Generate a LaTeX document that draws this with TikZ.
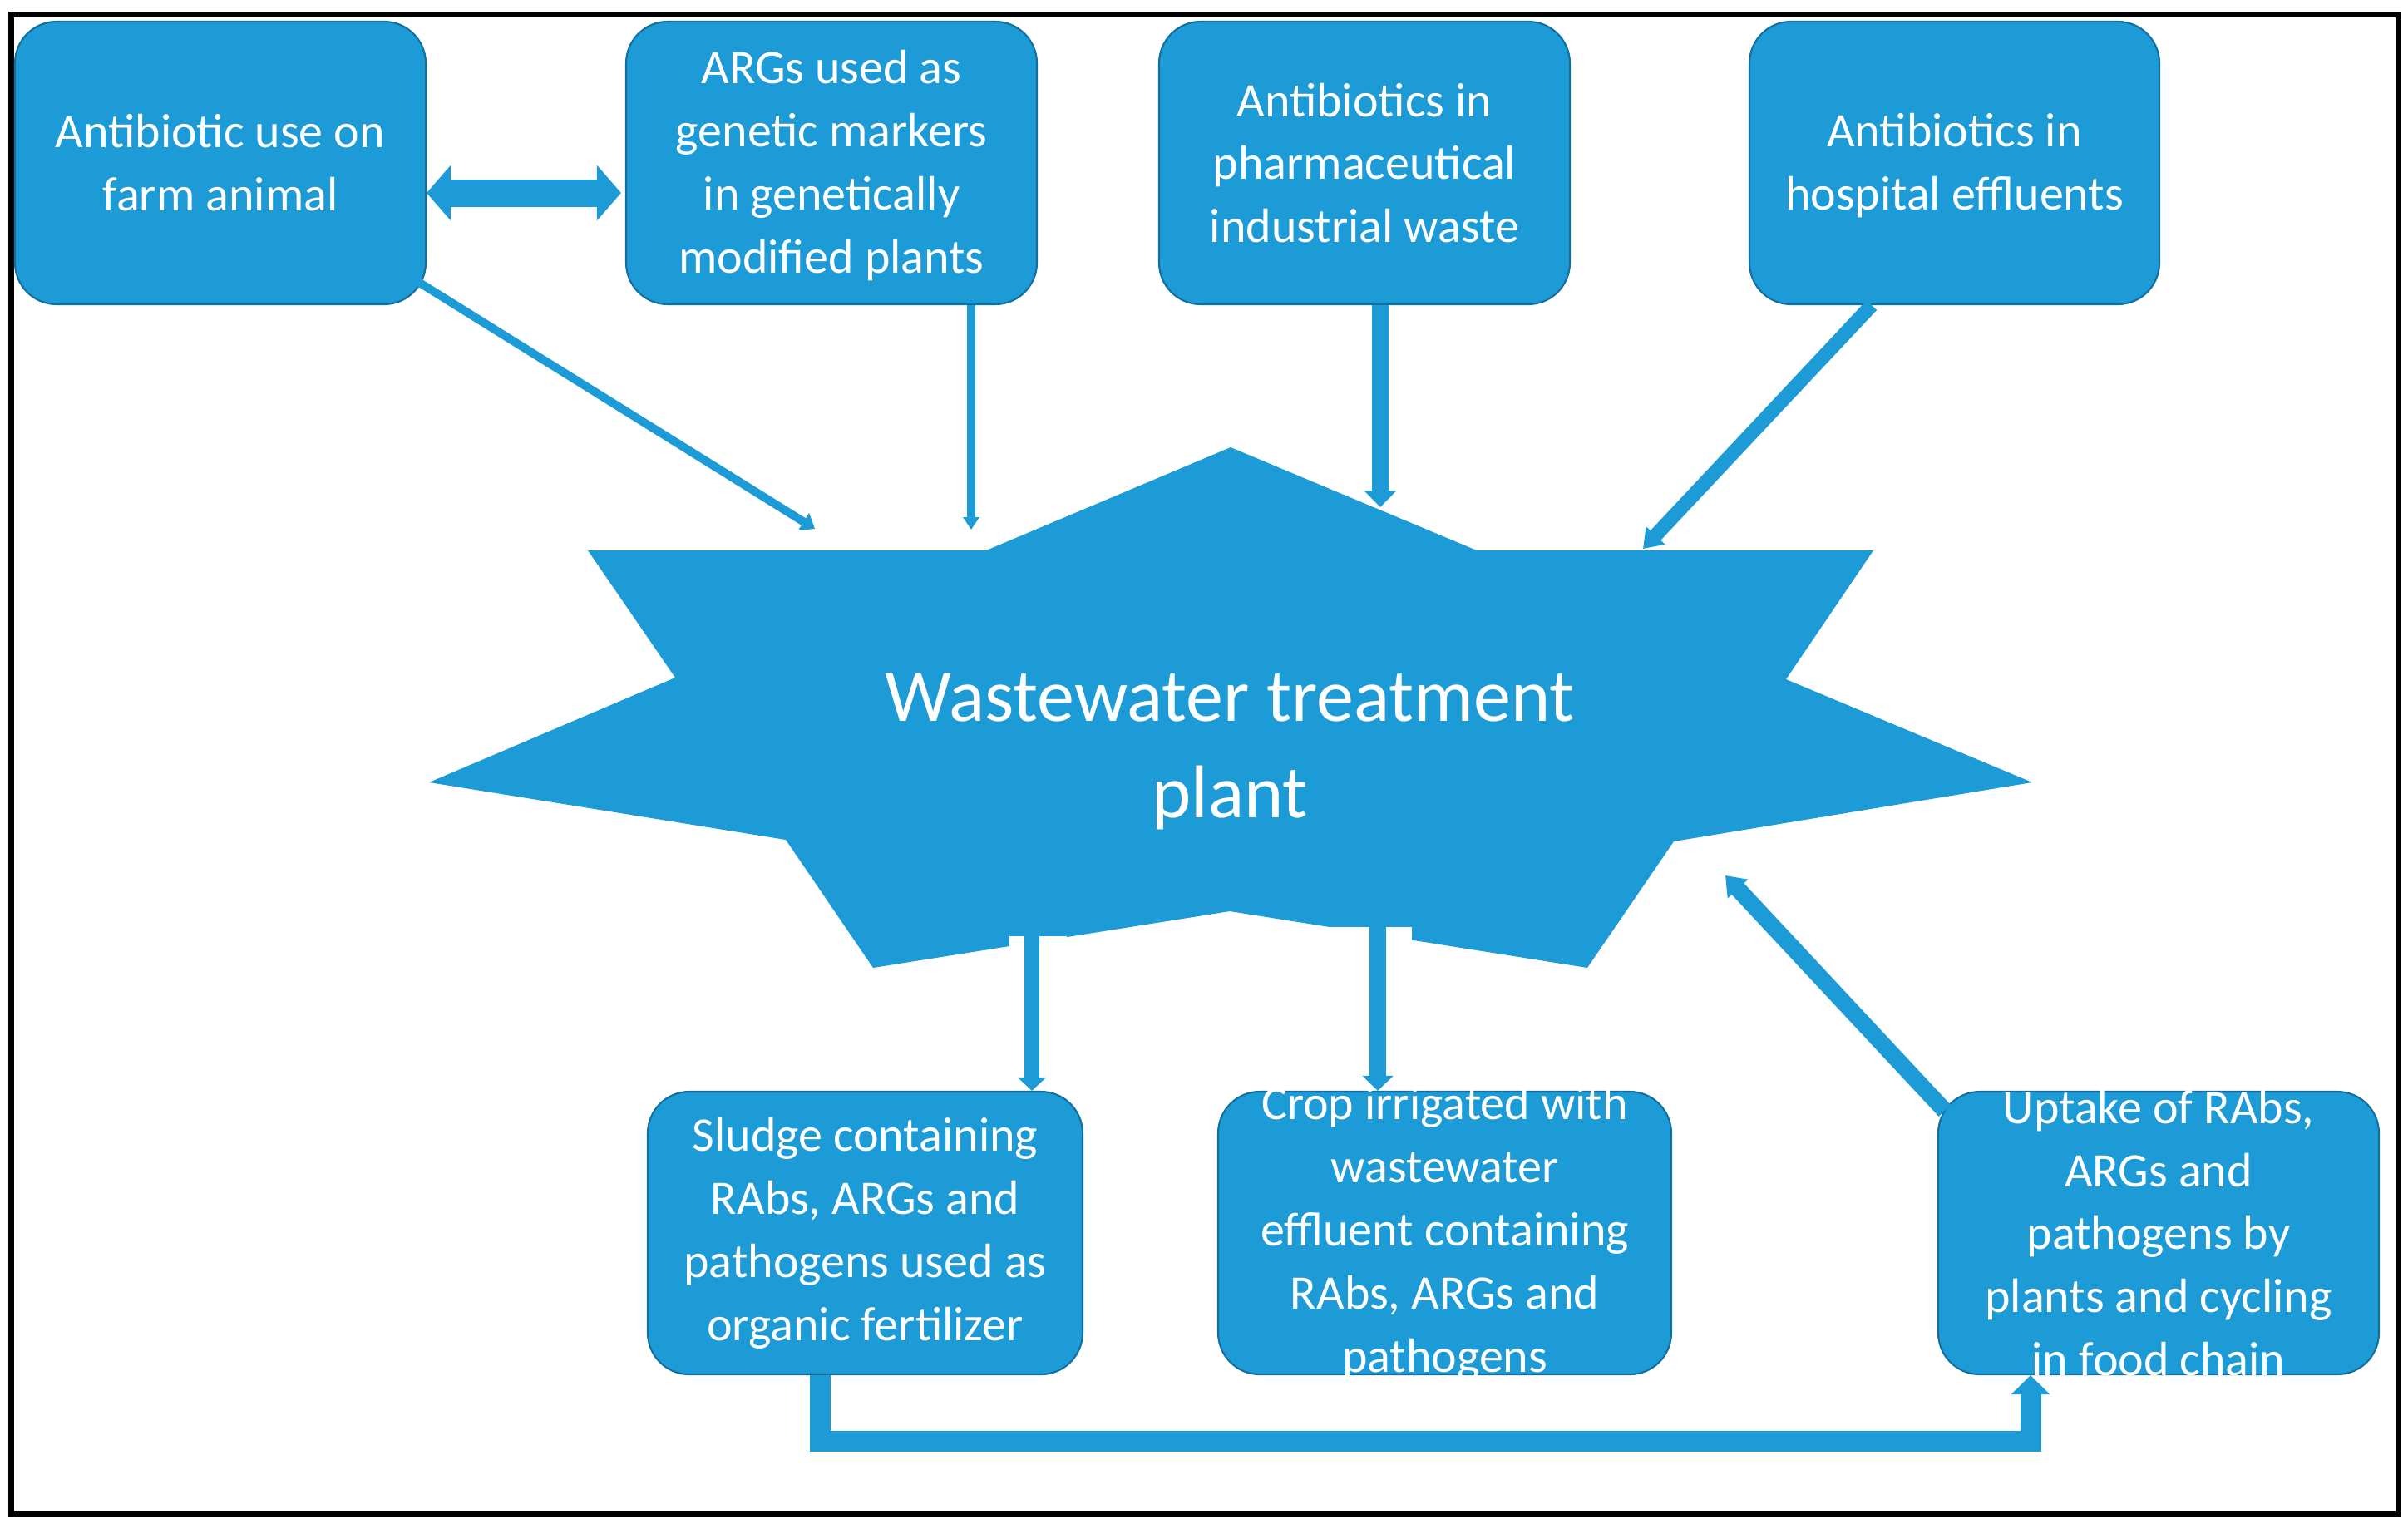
\documentclass[tikz,border=0pt]{standalone}
\usepackage{fontspec}
\setmainfont{Carlito}
\usetikzlibrary{arrows.meta,calc}
\definecolor{wblue}{RGB}{29,155,214}
\definecolor{wdark}{RGB}{18,112,160}
\tikzstyle{bx}=[rectangle,rounded corners=0.5cm,fill=wblue,draw=wdark,
  line width=0.6pt,inner sep=0pt,minimum height=3.4cm]
\tikzstyle{bt}=[align=center,text=white,inner sep=0pt,
  font=\fontsize{16.5}{21.6}\selectfont]
\tikzstyle{fl}=[draw=wblue,line width=0.1cm]

\begin{document}
\begin{tikzpicture}
    \useasboundingbox (0,0) rectangle (28.96,-18.32);
    \draw[line width=0.07cm] (0.135,-0.175) rectangle (28.845,-18.20);
    % the plant
    \fill[wblue] (5.16,-9.41) -- (8.12,-8.15) -- (7.07,-6.62) -- (11.86,-6.62)
      -- (14.80,-5.38) -- (17.76,-6.62) -- (22.53,-6.62) -- (21.48,-8.17)
      -- (24.44,-9.41) -- (20.13,-10.12) -- (19.09,-11.64) -- (14.79,-10.96)
      -- (10.50,-11.64) -- (9.45,-10.10) -- cycle;
    \fill[white] (12.14,-11.26) rectangle (12.83,-11.50);
    \fill[white] (15.90,-11.15) rectangle (16.98,-11.40);
    \node[align=center,text=white,font=\fontsize{25.6}{33}\selectfont] (wwtp)
      at (14.79,-9.04) {Wastewater treatment\\plant};
    % sources
    \node[bx,minimum width=4.94cm] (farm) at (2.65,-1.96) {};
    \node[bx,minimum width=4.94cm] (gm) at (10.00,-1.96) {};
    \node[bx,minimum width=4.94cm] (pharma) at (16.41,-1.96) {};
    \node[bx,minimum width=4.93cm] (hosp) at (23.505,-1.96) {};
    \node[bt] (farm-t) at (farm) {Antibiotic use on\\farm animal};
    \node[bt] (gm-t) at ($(gm)+(0,-0.03)$) {ARGs used as\\genetic markers\\in genetically\\modified plants};
    \node[bt] (pharma-t) at (pharma) {Antibiotics in\\pharmaceutical\\industrial waste};
    \node[bt] (hosp-t) at ($(hosp)+(0,-0.03)$) {Antibiotics in\\hospital effluents};
    % outputs
    \node[bx,minimum width=5.23cm] (sludge) at (10.405,-14.83) {};
    \node[bx,minimum width=5.45cm] (crop) at (17.375,-14.83) {};
    \node[bx,minimum width=5.30cm] (uptake) at (25.96,-14.83) {};
    \node[bt] (sludge-t) at (sludge) {Sludge containing\\RAbs, ARGs and\\pathogens used as\\organic fertilizer};
    \node[bt] (crop-t) at (crop) {Crop irrigated with\\wastewater\\effluent containing\\RAbs, ARGs and\\pathogens};
    \node[bt] (uptake-t) at (uptake) {Uptake of RAbs,\\ARGs and\\pathogens by\\plants and cycling\\in food chain};
    % arrow ends
    \coordinate (s1) at (9.80,-6.36);
    \coordinate (s2) at (11.68,-6.37);
    \coordinate (s3) at (16.60,-6.10);
    \coordinate (s4) at (19.76,-6.60);
    \coordinate (s5) at (20.75,-10.53);
    \coordinate (o5) at (12.41,-11.26);
    \coordinate (o6) at (16.57,-11.15);
    \coordinate (b1) at (9.86,-17.33);
    \coordinate (b2) at ($(uptake.south)+(-1.54,0)$);
    \draw[fl,line width=0.33cm,{Triangle[width=0.65cm,length=0.29cm]}-{Triangle[width=0.65cm,length=0.29cm]}]
      ($(farm.east)+(0,-0.36)$) -- ($(gm.west)+(-0.05,-0.36)$);
    \draw[fl,-{Triangle[width=0.24cm,length=0.16cm]}] ($(farm.south east)+(-0.10,0.28)$) -- (s1);
    \draw[fl,-{Triangle[width=0.19cm,length=0.15cm]}] (s2 |- gm.south) -- (s2);
    \draw[fl,line width=0.2cm,-{Triangle[width=0.38cm,length=0.2cm]}] (s3 |- pharma.south) -- (s3);
    \draw[fl,line width=0.17cm,-{Triangle[width=0.3cm,length=0.22cm]}] ($(hosp.south west)+(1.48,0)$) -- (s4);
    \draw[fl,line width=0.18cm,-{Triangle[width=0.33cm,length=0.16cm]}] (o5) -- (o5 |- sludge.north);
    \draw[fl,line width=0.2cm,-{Triangle[width=0.36cm,length=0.18cm]}] (o6) -- (o6 |- crop.north);
    \draw[fl,line width=0.2cm,-{Triangle[width=0.32cm,length=0.22cm]}] ($(uptake.north west)+(0.09,-0.24)$) -- (s5);
    \draw[fl,line width=0.25cm,line join=miter,-{Triangle[width=0.45cm,length=0.23cm]}]
      (b1 |- sludge.south) -- (b1) -| (b2);
\end{tikzpicture}
\end{document}
